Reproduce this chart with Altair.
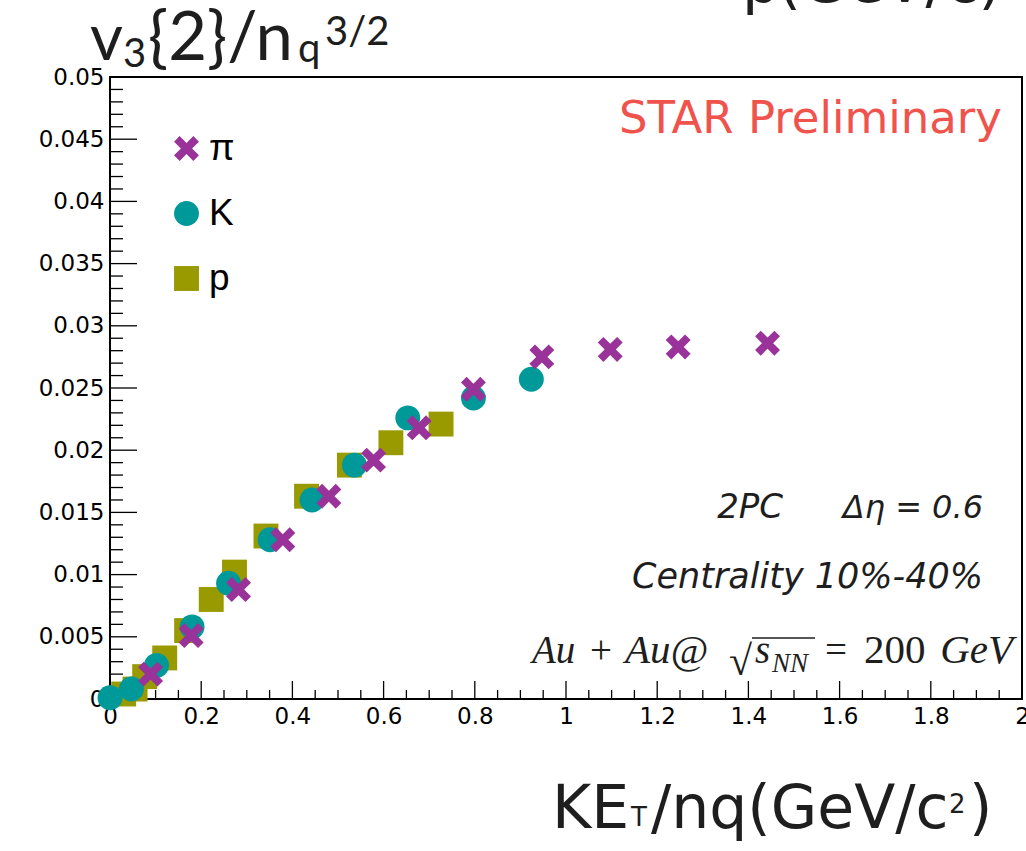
import altair as alt
import pandas as pd

# ---- data ----
pi_x = [0.089, 0.178, 0.282, 0.379, 0.480, 0.578, 0.678, 0.797, 0.947, 1.097, 1.246, 1.442]
pi_y = [0.0020, 0.0051, 0.0088, 0.0128, 0.0163, 0.0192, 0.0218, 0.0249, 0.0275, 0.0281, 0.0283, 0.0286]
k_x = [0.0, 0.047, 0.102, 0.180, 0.260, 0.351, 0.443, 0.536, 0.653, 0.797, 0.924]
k_y = [0.0001, 0.0008, 0.0027, 0.0058, 0.0093, 0.0128, 0.0160, 0.0188, 0.0226, 0.0242, 0.0257]
p_x = [0.030, 0.055, 0.076, 0.120, 0.168, 0.222, 0.273, 0.342, 0.431, 0.525, 0.616, 0.726]
p_y = [0.0004, 0.0008, 0.0018, 0.0033, 0.0055, 0.0080, 0.0102, 0.0131, 0.0163, 0.0188, 0.0206, 0.0221]

species = ["π", "K", "p"]
colors = ["#993399", "#009999", "#999900"]

x_major = [round(i * 0.2, 2) for i in range(11)]
x_minor = [round(i * 0.05, 3) for i in range(41) if i % 4]
y_major = [round(i * 0.005, 4) for i in range(11)]
y_minor = [round(i * 0.001, 4) for i in range(51) if i % 5]

# ---- tables ----
df = pd.concat([
    pd.DataFrame({"x": p_x, "y": p_y, "s": "p"}),
    pd.DataFrame({"x": k_x, "y": k_y, "s": "K"}),
    pd.DataFrame({"x": pi_x, "y": pi_y, "s": "π"}),
], ignore_index=True)

xs = alt.Scale(domain=[0, 2], nice=False, zero=False)
ys = alt.Scale(domain=[0, 0.05], nice=False, zero=False)

axis_common = dict(labelExpr="format(datum.value, '~g')", ticks=False, domain=False, grid=False,
                   title=None, labelFontSize=23, labelFont="DejaVu Sans", labelColor="black",
                   labelPadding=6, labelOverlap=False, labelFlush=False, labelBound=False)
ax_x = alt.Axis(values=x_major, **axis_common)
ax_y = alt.Axis(values=y_major, **axis_common)

XPATH = ("M-1,-0.55L-0.55,-1L0,-0.45L0.55,-1L1,-0.55L0.45,0L1,0.55L0.55,1"
         "L0,0.45L-0.55,1L-1,0.55L-0.45,0Z")

leg = dict(orient="none", legendX=58, legendY=53, title=None, labelFontSize=37,
           labelFont="Liberation Sans", labelColor="black", symbolSize=620,
           rowPadding=27, labelOffset=4, symbolStrokeWidth=0, padding=0,
           symbolOpacity=1)

points = alt.Chart(df).mark_point(filled=True, opacity=1, size=620, strokeWidth=0).encode(
    x=alt.X("x:Q", scale=xs, axis=ax_x),
    y=alt.Y("y:Q", scale=ys, axis=ax_y),
    color=alt.Color("s:N", scale=alt.Scale(domain=species, range=colors), legend=alt.Legend(**leg)),
    shape=alt.Shape("s:N", scale=alt.Scale(domain=species, range=[XPATH, "circle", "square"]),
                    legend=alt.Legend(**leg)),
)

def yticks(vals, length):
    return alt.Chart(pd.DataFrame({"v": vals})).mark_rule(color="black", strokeWidth=1.3).encode(
        y=alt.Y("v:Q", scale=ys, axis=ax_y), x=alt.value(0), x2=alt.value(length))

def xticks(vals, length):
    return alt.Chart(pd.DataFrame({"v": vals})).mark_rule(color="black", strokeWidth=1.3).encode(
        x=alt.X("v:Q", scale=xs, axis=ax_x), y=alt.value(622), y2=alt.value(622 - length))

OX, OY = 110, 77

def txt(s, x, y, size, font="DejaVu Sans", align="left", style="normal", color="#1e1e1e"):
    return alt.Chart(pd.DataFrame({"t": [s]})).mark_text(
        align=align, baseline="alphabetic", fontSize=size, font=font, fontStyle=style,
        color=color).encode(text="t:N", x=alt.value(x - OX), y=alt.value(y - OY))

SER = "Liberation Serif"
texts = [
    # y title
    txt("v", 90, 60, 64, font="Lato"),
    txt("3", 123, 67, 40, font="Lato"),
    txt("{2}/n", 148, 60, 67, font="Lato"),
    txt("q", 298, 62, 40, font="Lato"),
    txt("3/2", 325, 45, 40, font="Lato"),
    # x title
    txt("KE", 552, 828, 60),
    txt("T", 631, 826, 26),
    txt("/nq(GeV/c", 651, 828, 60),
    txt("2", 949, 813, 26),
    txt(")", 969, 828, 60),
    # cut-off title at top
    txt("p", 742, 2, 60),
    txt("T", 779, 0, 26),
    txt("(GeV/c)", 1002, 2, 60, align="right"),
    # annotations
    txt("STAR Preliminary", 1002, 133, 45, color="#f0524c", align="right"),
    txt("2PC", 783, 518, 34, style="italic", align="right"),
    txt("Δη = 0.6", 983, 518, 32, style="italic", align="right"),
    txt("Centrality 10%-40%", 983, 588, 35, style="italic", align="right"),
    txt("Au", 532, 663, 39, font=SER, style="italic"),
    txt("+", 590, 663, 39, font=SER),
    txt("Au@", 625, 663, 41, font=SER, style="italic"),
    txt("√", 729, 675, 42, font=SER),
    txt("s", 755, 663, 39, font=SER, style="italic"),
    txt("NN", 772, 672, 27, font=SER, style="italic"),
    txt("=", 825, 663, 39, font=SER),
    txt("200", 864, 663, 41, font=SER),
    txt("GeV", 1013, 663, 41, font=SER, style="italic", align="right"),
]

overline = alt.Chart(pd.DataFrame({"v": [0]})).mark_rule(color="#1e1e1e", strokeWidth=1.5).encode(
    x=alt.value(752 - OX), x2=alt.value(815 - OX), y=alt.value(638 - OY))

chart = alt.layer(
    yticks(y_minor, 13), yticks(y_major, 27), xticks(x_minor, 9), xticks(x_major, 18),
    points, overline, *texts
).properties(
    width=912, height=622,
    autosize=alt.AutoSizeParams(type="none"),
    padding={"left": OX, "top": OY, "right": 4, "bottom": 152},
    background="white",
).configure_view(stroke="black", strokeWidth=2)

chart.save("out.html", embed_options={"renderer": "svg", "actions": False})
